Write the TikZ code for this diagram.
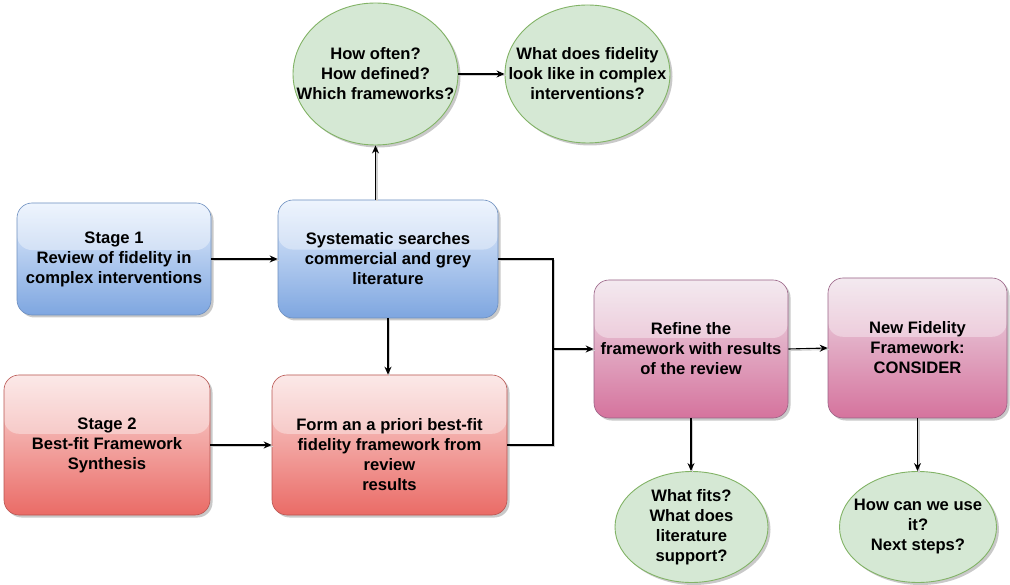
\documentclass[tikz,border=0pt]{standalone}
\usepackage{fontspec}
\setmainfont{Liberation Sans}
\usetikzlibrary{arrows.meta,shadows,calc,shapes.geometric}

\definecolor{bluetop}{HTML}{DAE8FC}
\definecolor{bluebot}{HTML}{7EA6E0}
\definecolor{bluedraw}{HTML}{6C8EBF}
\definecolor{redtop}{HTML}{F8CECC}
\definecolor{redbot}{HTML}{EA6B66}
\definecolor{reddraw}{HTML}{B85450}
\definecolor{pinktop}{HTML}{E6D0DE}
\definecolor{pinkbot}{HTML}{D5739D}
\definecolor{pinkdraw}{HTML}{996185}
\definecolor{greenfill}{HTML}{D5E8D4}
\definecolor{greendraw}{HTML}{82B366}

\tikzset{
  txt/.style={align=center, font=\bfseries\fontsize{16.6}{20}\selectfont, text=black},
  shad/.style={drop shadow={shadow xshift=2.5pt, shadow yshift=-2.5pt, opacity=0.3, fill=black!70}},
  glassbox/.style={txt, shad, rounded corners=15pt, inner sep=4pt, line width=0.6pt,
    path picture={
      \fill[white, opacity=0.36]
        (path picture bounding box.north west) rectangle
        ($(path picture bounding box.north east)!0.42!(path picture bounding box.south east)$);
    }},
  bluebox/.style={glassbox, draw=bluedraw, top color=bluetop!70!white, bottom color=bluebot},
  redbox/.style={glassbox, draw=reddraw, top color=redtop!70!white, bottom color=redbot},
  pinkbox/.style={glassbox, draw=pinkdraw, top color=pinktop!70!white, bottom color=pinkbot},
  question/.style={shad, ellipse, inner sep=0pt, fill=greenfill, draw=greendraw, line width=0.9pt},
  linkshadow/.style={preaction={draw=black!18, line width=1.1pt, -, transform canvas={xshift=1.5pt, yshift=-1.5pt}}},
  arr/.style={linkshadow, -{Stealth[length=8pt, width=7pt]}, line width=1.1pt, black},
  link/.style={linkshadow, line width=1.1pt, black}
}

\begin{document}
\begin{tikzpicture}[x=1pt, y=-1pt]
\useasboundingbox (0,0) rectangle (1010,585);

% stage 1 row
\node[bluebox, minimum width=194pt, minimum height=112pt] (s1) at (114,259)
  {Stage 1\\Review of fidelity in\\complex interventions};
\node[bluebox, minimum width=220pt, minimum height=118pt] (sys) at (388,259)
  {Systematic searches\\commercial and grey\\literature};

% stage 2 row
\node[redbox, minimum width=206pt, minimum height=140pt] (s2) at (107,445)
  {Stage 2\\Best-fit Framework\\Synthesis};
\node[redbox, minimum width=235pt, minimum height=140pt,
      label={[txt, yshift=-10pt]center:{Form an a priori best-fit\\fidelity framework from\\review\\results}}]
  (form) at (389.5,445) {};

% refinement and final framework
\node[pinkbox, minimum width=194pt, minimum height=138pt] (refine) at (691,349)
  {Refine the\\framework with results\\of the review};
\node[pinkbox, minimum width=179pt, minimum height=140pt] (new) at (917.5,348)
  {New Fidelity\\Framework:\\CONSIDER};

% guiding questions
\node[question, minimum width=165pt, minimum height=142pt,
      label={[txt]center:{How often?\\How defined?\\Which frameworks?}}] (q1) at (375.5,74) {};
\node[question, minimum width=165pt, minimum height=138pt,
      label={[txt]center:{What does fidelity\\look like in complex\\interventions?}}] (q2) at (587.5,74) {};
\node[question, minimum width=153pt, minimum height=111pt,
      label={[txt]center:{What fits?\\What does\\literature\\support?}}] (q3) at (691.5,527) {};
\node[question, minimum width=157pt, minimum height=111pt,
      label={[txt]center:{How can we use\\it?\\Next steps?}}] (q4) at (918,527) {};

% connectors
\coordinate (j) at (553,349);
\draw[arr] (s1.east) -- (sys.west);
\draw[arr] (s2.east) -- (form.west);
\draw[arr] (q1.south |- sys.north) -- (q1.south);
\draw[arr] (q1.east) -- (q2.west);
\draw[arr] (sys.south) -- (sys.south |- form.north);
\draw[link] (sys.east) -| (j);
\draw[link] (form.east) -| (j);
\draw[arr] (j) -- (refine.west);
\draw[arr] (refine.east) -- (new.west);
\draw[arr] (refine.south) -- (refine.south |- q3.north);
\draw[arr] (new.south) -- (new.south |- q4.north);
\end{tikzpicture}
\end{document}
